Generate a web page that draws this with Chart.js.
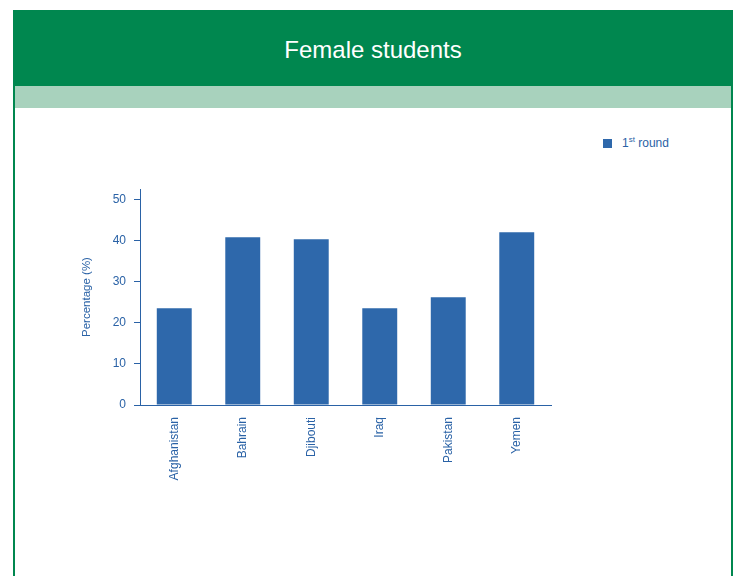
<!DOCTYPE html>
<html>
<head>
<meta charset="utf-8">
<script src="https://cdn.jsdelivr.net/npm/chart.js@4/dist/chart.umd.min.js"></script>
<style>
  html, body { margin: 0; padding: 0; background: #fff; }
  body { width: 736px; height: 576px; position: relative; overflow: hidden; font-family: "Liberation Sans", Arial, sans-serif; }
  .panel { position: absolute; left: 13px; top: 10px; width: 716px; height: 580px; border-left: 2px solid #00874f; border-right: 2px solid #00874f; }
  .header { position: absolute; left: 13px; top: 10px; width: 720px; height: 76px; background: #00874f; color: #fff; font-size: 24px; text-align: center; line-height: 80px; }
  .band { position: absolute; left: 15px; top: 86px; width: 716px; height: 22px; background: #a8d2bd; }
  .legend { position: absolute; left: 603px; top: 135px; font-size: 12px; color: #2a62a6; }
  .legend .box { display: inline-block; width: 9px; height: 9px; background: #2e68ab; margin-right: 10px; vertical-align: -1px; }
  .legend sup { font-size: 8px; }
  #wrap { position: absolute; left: 0; top: 0; width: 736px; height: 576px; }
</style>
</head>
<body>
<div class="panel"></div>
<div class="header">Female students</div>
<div class="band"></div>
<div class="legend"><span class="box"></span>1<sup>st</sup> round</div>
<div id="wrap"><canvas id="chart"></canvas></div>
<script>
// values
const countries = ['Afghanistan', 'Bahrain', 'Djibouti', 'Iraq', 'Pakistan', 'Yemen'];
const round1 = [23.5, 40.8, 40.3, 23.5, 26.2, 42.0];
const yTicks = [0, 10, 20, 30, 40, 50];

const blue = '#2e68ab';
const textBlue = '#2a62a6';

new Chart(document.getElementById('chart'), {
  type: 'bar',
  data: {
    labels: countries,
    datasets: [{
      label: '1st round',
      data: round1,
      backgroundColor: blue,
      categoryPercentage: 1,
      barPercentage: 0.51
    }]
  },
  options: {
    responsive: true,
    maintainAspectRatio: false,
    animation: false,
    layout: { padding: { left: 80, right: 185, top: 189, bottom: 51 } },
    plugins: { legend: { display: false }, tooltip: { enabled: false } },
    scales: {
      x: {
        grid: { display: false },
        border: { color: textBlue, width: 1 },
        ticks: {
          color: textBlue, font: { size: 12, family: 'Liberation Sans' },
          minRotation: 90, maxRotation: 90, padding: 4
        },
        afterFit: s => { s.height = 120; }
      },
      y: {
        min: 0, max: 52.5,
        afterBuildTicks: s => { s.ticks = yTicks.map(v => ({ value: v })); },
        grid: { drawOnChartArea: false, drawTicks: true, tickLength: 6, color: textBlue },
        border: { color: textBlue, width: 1 },
        ticks: { color: textBlue, font: { size: 12, family: 'Liberation Sans' }, padding: 8 },
        title: { display: true, text: 'Percentage (%)', color: textBlue, font: { size: 11.5, family: 'Liberation Sans' }, padding: 0 },
        afterFit: s => { s.width = 60; }
      }
    }
  }
});
</script>
</body>
</html>
